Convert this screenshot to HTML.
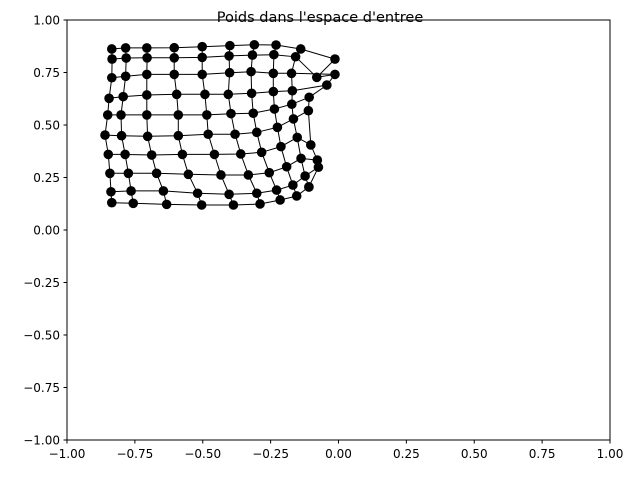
<!DOCTYPE html>
<html><head><meta charset="utf-8"><style>
body{margin:0;background:#fff}
svg{display:block;font-family:"DejaVu Sans","Liberation Sans",sans-serif}
</style></head><body>
<svg id="chart" width="640" height="480" viewBox="0 0 640 480">
<rect width="640" height="480" fill="#fff"/>
<g id="lines"></g>
<g id="pts"></g>
<rect x="67" y="20" width="543" height="420" fill="none" stroke="#000" stroke-width="1"/>
<g id="ticks"></g>
<text x="320" y="22" text-anchor="middle" font-size="14.5">Poids dans l'espace d'entree</text>
</svg>
<script>
const xTicks=[-1,-0.75,-0.5,-0.25,0,0.25,0.5,0.75,1];
const yTicks=[-1,-0.75,-0.5,-0.25,0,0.25,0.5,0.75,1];
const tickLabels=["−1.00","−0.75","−0.50","−0.25","0.00","0.25","0.50","0.75","1.00"];
const rowX=[
[-0.835,-0.784,-0.706,-0.605,-0.502,-0.400,-0.310,-0.230,-0.139,-0.013],
[-0.834,-0.782,-0.705,-0.605,-0.502,-0.403,-0.317,-0.238,-0.158,-0.080],
[-0.835,-0.784,-0.706,-0.605,-0.502,-0.401,-0.322,-0.240,-0.173,-0.013],
[-0.845,-0.793,-0.706,-0.596,-0.492,-0.406,-0.320,-0.240,-0.170,-0.043],
[-0.850,-0.801,-0.706,-0.590,-0.485,-0.396,-0.314,-0.236,-0.172,-0.108],
[-0.860,-0.799,-0.703,-0.590,-0.480,-0.381,-0.301,-0.225,-0.166,-0.111],
[-0.848,-0.786,-0.688,-0.575,-0.457,-0.360,-0.283,-0.212,-0.152,-0.102],
[-0.842,-0.774,-0.670,-0.553,-0.433,-0.332,-0.255,-0.191,-0.138,-0.078],
[-0.838,-0.764,-0.645,-0.519,-0.403,-0.301,-0.228,-0.168,-0.123,-0.074],
[-0.835,-0.756,-0.633,-0.504,-0.387,-0.289,-0.215,-0.154,-0.109,-0.109]];
const rowY=[
[0.862,0.867,0.867,0.868,0.873,0.878,0.882,0.881,0.862,0.814],
[0.814,0.819,0.820,0.820,0.822,0.829,0.833,0.835,0.825,0.727],
[0.725,0.732,0.741,0.741,0.741,0.749,0.754,0.746,0.746,0.741],
[0.627,0.635,0.643,0.646,0.646,0.646,0.651,0.659,0.663,0.690],
[0.548,0.548,0.548,0.548,0.548,0.554,0.556,0.576,0.599,0.632],
[0.452,0.449,0.446,0.449,0.456,0.456,0.465,0.489,0.529,0.568],
[0.360,0.360,0.357,0.360,0.360,0.362,0.370,0.397,0.441,0.405],
[0.270,0.270,0.270,0.265,0.262,0.262,0.273,0.301,0.341,0.333],
[0.182,0.186,0.186,0.175,0.170,0.175,0.190,0.214,0.257,0.299],
[0.130,0.127,0.122,0.119,0.119,0.124,0.143,0.162,0.205,0.205]];
const NS="http://www.w3.org/2000/svg";
const sx=v=>67+(v+1)/2*543, sy=v=>440-(v+1)/2*420;
const L=document.getElementById('lines'),P=document.getElementById('pts'),T=document.getElementById('ticks');
function poly(pts){const p=document.createElementNS(NS,'polyline');
p.setAttribute('points',pts.map(q=>sx(q[0]).toFixed(1)+','+sy(q[1]).toFixed(1)).join(' '));
p.setAttribute('fill','none');p.setAttribute('stroke','#000');p.setAttribute('stroke-width','1');


L.appendChild(p);}
for(let i=0;i<rowX.length;i++)poly(rowX[i].map((x,j)=>[x,rowY[i][j]]));
for(let j=0;j<rowX[0].length;j++)poly(rowX.map((r,i)=>[r[j],rowY[i][j]]));
for(let i=0;i<rowX.length;i++)for(let j=0;j<rowX[i].length;j++){
const c=document.createElementNS(NS,'circle');
c.setAttribute('cx',sx(rowX[i][j]));c.setAttribute('cy',sy(rowY[i][j]));c.setAttribute('r','4.8');c.setAttribute('fill','#000');


P.appendChild(c);}
xTicks.forEach((v,k)=>{const x=sx(v);
const l=document.createElementNS(NS,'line');l.setAttribute('x1',x);l.setAttribute('x2',x);l.setAttribute('y1',440);l.setAttribute('y2',443.5);l.setAttribute('stroke','#000');


T.appendChild(l);
const t=document.createElementNS(NS,'text');t.setAttribute('x',x);t.setAttribute('y',458);t.setAttribute('text-anchor','middle');t.setAttribute('font-size','12');t.textContent=tickLabels[k];


T.appendChild(t);});
yTicks.forEach((v,k)=>{const y=sy(v);
const l=document.createElementNS(NS,'line');l.setAttribute('x1',63.5);l.setAttribute('x2',67);l.setAttribute('y1',y);l.setAttribute('y2',y);l.setAttribute('stroke','#000');


T.appendChild(l);
const t=document.createElementNS(NS,'text');t.setAttribute('x',60);t.setAttribute('y',y+4.5);t.setAttribute('text-anchor','end');t.setAttribute('font-size','12');t.textContent=tickLabels[k];


T.appendChild(t);});
</script>
</body></html>
